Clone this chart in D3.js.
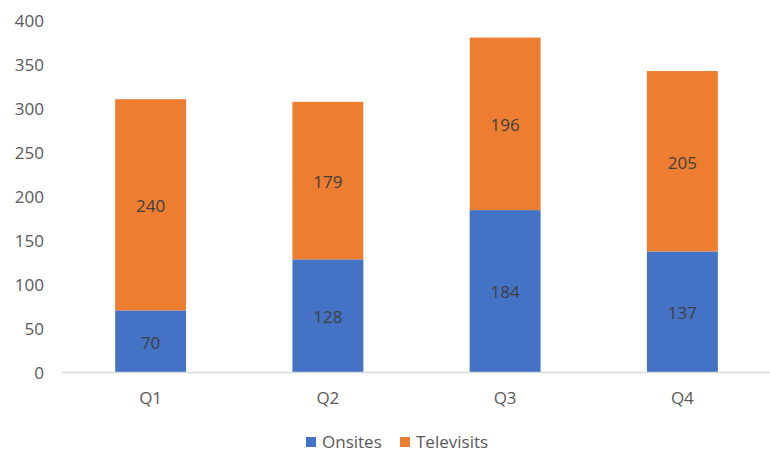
<!DOCTYPE html>
<html><head><meta charset="utf-8">
<script src="https://cdn.jsdelivr.net/npm/d3@7"></script>
<style>body{margin:0;background:#fff}svg{display:block}text{font-family:"Open Sans","Noto Sans",sans-serif}</style>
</head><body><svg id="c" width="770" height="466"></svg>
<script>
const categories = ["Q1","Q2","Q3","Q4"];
const onsites = [70,128,184,137];
const televisits = [240,179,196,205];
const seriesNames = ["Onsites","Televisits"];
const colors = ["#4472C4","#ED7D31"];
const yTicks = [0,50,100,150,200,250,300,350,400];

const svg = d3.select("#c");
const x = d3.scaleBand().domain(categories).range([62,771]).paddingInner(0.6).paddingOuter(0.3);
const y = d3.scaleLinear().domain([0,400]).range([372,20]);

const data = categories.map((c,i)=>({cat:c, Onsites:onsites[i], Televisits:televisits[i]}));
const stacked = d3.stack().keys(seriesNames)(data);

// y labels
svg.append("g").selectAll("text").data(yTicks).join("text")
  .attr("x",44).attr("y",d=>y(d)+1).attr("dy","0.35em").attr("text-anchor","end")
  .attr("font-size",17).attr("fill","#595959").text(d=>d);

// bars
stacked.forEach((s,si)=>{
  const g = svg.append("g");
  g.selectAll("rect").data(s).join("rect")
    .attr("x",d=>x(d.data.cat)).attr("width",x.bandwidth())
    .attr("y",d=>y(d[1])).attr("height",d=>y(d[0])-y(d[1]))
    .attr("fill",colors[si]);
  g.selectAll("text").data(s).join("text")
    .attr("x",d=>x(d.data.cat)+x.bandwidth()/2).attr("y",d=>(y(d[0])+y(d[1]))/2+1.5)
    .attr("dy","0.35em").attr("text-anchor","middle").attr("font-size",17).attr("fill","#404040")
    .text(d=>d[1]-d[0]);
});

// x axis line
svg.append("line").attr("x1",62).attr("x2",770).attr("y1",372.5).attr("y2",372.5)
  .attr("stroke","#D9D9D9").attr("stroke-width",1.5);
svg.append("g").selectAll("text").data(categories).join("text")
  .attr("x",d=>x(d)+x.bandwidth()/2).attr("y",398).attr("dy","0.35em").attr("text-anchor","middle")
  .attr("font-size",17).attr("fill","#595959").text(d=>d);

// legend
const legX = [306,400];
const leg = svg.append("g").selectAll("g").data(seriesNames).join("g")
  .attr("transform",(d,i)=>`translate(${legX[i]},442)`);
leg.append("rect").attr("x",0).attr("y",-5).attr("width",10).attr("height",10).attr("fill",(d,i)=>colors[i]);
leg.append("text").attr("x",16).attr("dy","0.35em").attr("font-size",17).attr("fill","#595959").text(d=>d);
</script></body></html>
